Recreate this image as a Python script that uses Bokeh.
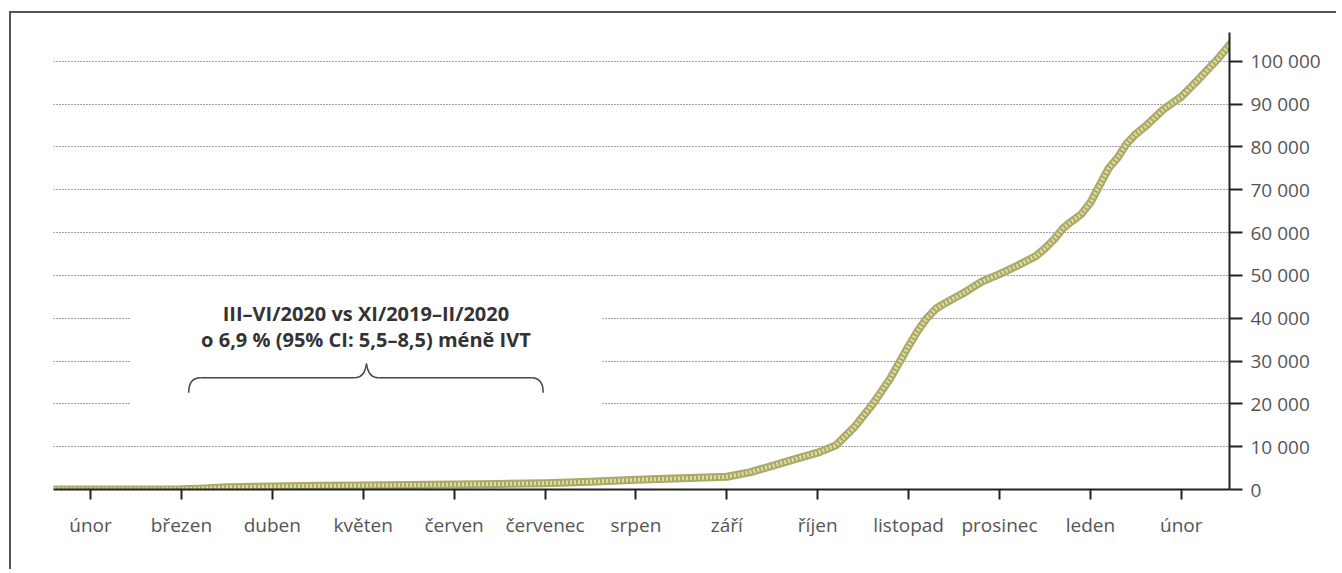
from bokeh.plotting import figure
from bokeh.models import Range1d, FixedTicker, CustomJSTickFormatter
from bokeh.core.properties import value
from bokeh.embed import file_html
from bokeh.resources import INLINE

# ---- data -------------------------------------------------------------
month_labels = ["únor", "březen", "duben", "květen", "červen", "červenec", "srpen",
                "září", "říjen", "listopad", "prosinec", "leden", "únor"]
y_ticks = [0, 10000, 20000, 30000, 40000, 50000, 60000, 70000, 80000, 90000, 100000]

# position in months (0 = únor 2020) and cumulative count
x_month = [-0.4, 0.0, 0.5, 1.0, 1.2, 1.5, 2.0, 2.5, 3.0, 3.5, 4.0, 4.5, 5.0, 5.5,
           6.0, 6.5, 7.0, 7.25, 7.5, 7.75, 8.0, 8.2, 8.4, 8.6, 8.8, 9.0, 9.1, 9.2,
           9.3, 9.4, 9.6, 9.8, 10.0, 10.2, 10.4, 10.5, 10.6, 10.7, 10.8, 10.9,
           11.0, 11.1, 11.2, 11.3, 11.4, 11.5, 11.6, 11.8, 12.0, 12.2, 12.4, 12.55]
counts = [0, 0, 0, 50, 200, 500, 700, 850, 950, 1050, 1150, 1300, 1470, 1800,
          2260, 2600, 2970, 4000, 5500, 7100, 8600, 10300, 14500, 19800, 26000,
          33500, 37000, 40000, 42200, 43500, 45800, 48500, 50300, 52300, 54500,
          56300, 58400, 61000, 62700, 64300, 67000, 71000, 75000, 77500, 80800,
          83000, 84700, 88700, 91700, 96000, 100500, 104300]

note_lines = ["III–VI/2020 vs XI/2019–II/2020",
              "o 6,9 % (95% CI: 5,5–8,5) méně IVT"]

# ---- figure -----------------------------------------------------------
p = figure(width=1327, height=558, output_backend="svg", toolbar_location=None,
           x_range=Range1d(-0.407, 12.53), y_range=Range1d(0, 106700),
           y_axis_location="right",
           min_border_left=42, min_border_right=109, min_border_top=19,
           min_border_bottom=82)
p.styles = {"margin-left": "9px", "margin-top": "11px",
            "border-left": "2px solid #555555", "border-top": "2px solid #555555"}
p.outline_line_color = None
p.background_fill_color = "white"
p.border_fill_color = "white"

label_font = "Open Sans"
label_color = "#555555"

# x axis
xa = p.xaxis[0]
xa.ticker = FixedTicker(ticks=list(range(len(month_labels))))
xa.major_label_overrides = {i: m for i, m in enumerate(month_labels)}
xa.axis_line_color = "#222222"
xa.axis_line_width = 2
xa.major_tick_line_color = "#222222"
xa.major_tick_line_width = 2
xa.major_tick_out = 10
xa.major_tick_in = 0
xa.minor_tick_line_color = None
xa.major_label_text_font = label_font
xa.major_label_text_font_size = "19px"
xa.major_label_text_color = label_color
xa.major_label_standoff = 12

# y axis
ya = p.yaxis[0]
ya.ticker = FixedTicker(ticks=y_ticks)
ya.formatter = CustomJSTickFormatter(
    code="return Math.round(tick).toString().replace(/\\B(?=(\\d{3})+(?!\\d))/g, ' ');")
ya.axis_line_color = "#222222"
ya.axis_line_width = 2
ya.major_tick_line_color = "#222222"
ya.major_tick_line_width = 2
ya.major_tick_out = 13
ya.major_tick_in = 0
ya.minor_tick_line_color = None
ya.major_label_text_font = label_font
ya.major_label_text_font_size = "19px"
ya.major_label_text_color = label_color
ya.major_label_standoff = 8

p.xgrid.visible = False
p.ygrid.ticker = FixedTicker(ticks=y_ticks[1:])
p.ygrid.grid_line_color = "#444444"
p.ygrid.grid_line_dash = "1 2"
p.ygrid.grid_line_width = 1

# white box behind the annotation
p.quad(left=[0.44], right=[5.63], bottom=[12500], top=[46500],
       fill_color="white", line_color=None)

# curve (beaded look)
p.line(x_month, counts, line_width=8, line_color="#aba86c", line_join="round",
       line_cap="round")
p.line(x_month, counts, line_width=4, line_color="#e0df98", line_dash="2 2",
       line_join="round")

# annotation text
p.text(x=[3.03, 3.03], y=[41150, 35000], text=note_lines,
       text_font=value("Open Sans"), text_font_style="bold",
       text_font_size="20px", text_color="#333333",
       text_align="center", text_baseline="alphabetic")

# brace spanning březen–červen
bx0, bx1, bmid = 1.08, 4.98, 3.036
curl = 0.13
yb, ye, yt = 26100, 22600, 29400
bc = "#444444"
p.quadratic(x0=[bx0, bx1], y0=[ye, ye], x1=[bx0 + curl, bx1 - curl], y1=[yb, yb],
            cx=[bx0, bx1], cy=[yb, yb], line_color=bc, line_width=1.5)
p.segment(x0=[bx0 + curl, bmid + curl], y0=[yb, yb],
          x1=[bmid - curl, bx1 - curl], y1=[yb, yb], line_color=bc, line_width=1.5)
p.quadratic(x0=[bmid - curl, bmid + curl], y0=[yb, yb], x1=[bmid, bmid], y1=[yt, yt],
            cx=[bmid - 0.02, bmid + 0.02], cy=[yb, yb], line_color=bc, line_width=1.5)

open("out.html", "w").write(file_html(p, INLINE))
